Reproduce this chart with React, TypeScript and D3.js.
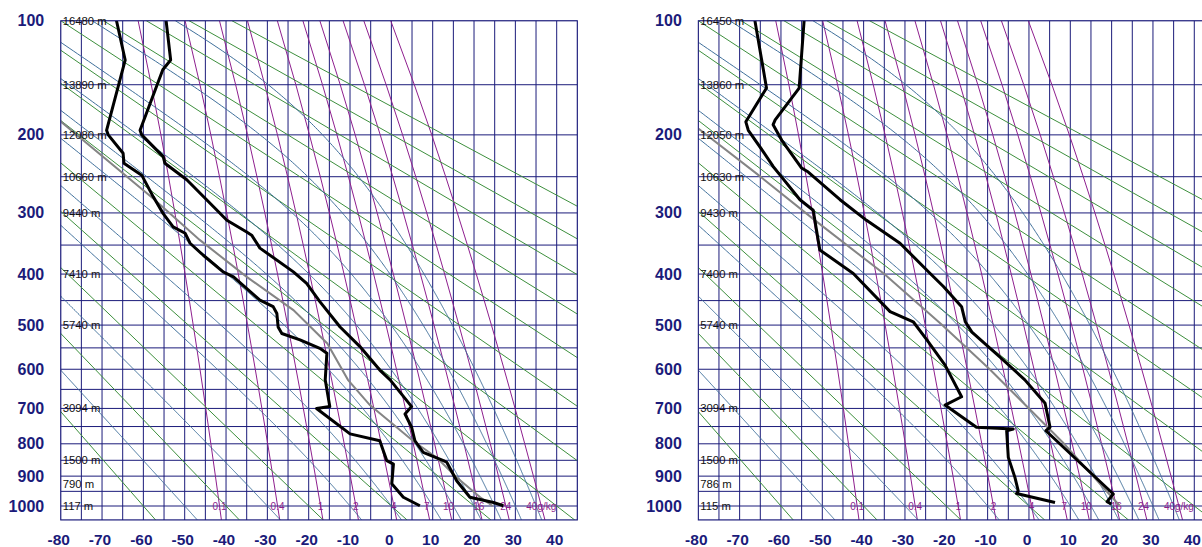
import React, { useEffect, useRef } from 'react';
import * as d3 from 'd3';

// --- axes / grid values ---
const pressureTicks = [100, 200, 300, 400, 500, 600, 700, 800, 900, 1000];
const tempTicks = [-80, -70, -60, -50, -40, -30, -20, -10, 0, 10, 20, 30, 40];
const isobars = [100, 150, 200, 250, 300, 350, 400, 450, 500, 550, 600, 650, 700, 750, 800, 850, 900, 950, 1000, 1050];
const isotherms = [-80, -75, -70, -65, -60, -55, -50, -45, -40, -35, -30, -25, -20, -15, -10, -5, 0, 5, 10, 15, 20, 25, 30, 35, 40, 45];
// dry adiabats, temperature (C) at 1000 hPa
const dryAdiabats = [-60, -40, -20, 0, 20, 40, 60, 80, 100, 120, 140, 160, 180];
// moist adiabats, wet-bulb potential temperature (C)
const moistAdiabats = [-50, -30, -10, 0, 10, 15, 20, 25, 30, 35];
// mixing ratio lines (g/kg)
const mixingRatios = [0.1, 0.4, 1, 2, 4, 7, 10, 16, 24, 40];
const mixingLabels = ['0.1', '0.4', '1', '2', '4', '7', '10', '16', '24', '40g/kg'];

// --- height labels ---
const heightLevels = [100, 150, 200, 250, 300, 400, 500, 700, 850, 925, 1000];
const leftHeights = ['16480 m', '13890 m', '12080 m', '10660 m', '9440 m', '7410 m', '5740 m', '3094 m', '1500 m', '790 m', '117 m'];
const rightHeights = ['16450 m', '13860 m', '12050 m', '10630 m', '9430 m', '7400 m', '5740 m', '3094 m', '1500 m', '786 m', '115 m'];

// --- soundings [pressure hPa, temperature C] ---
const leftTemp: [number, number][] = [
  [100, -54.5], [129, -53.4], [137, -55.3], [195, -60.8], [200, -60.4], [225, -55.2], [233, -54.8],
  [254, -49.5], [281, -44.7], [311, -39.8], [329, -35.0], [334, -33.8], [355, -31.8], [396, -23.7],
  [417, -20.5], [452, -17.3], [504, -12.4], [547, -7.6], [602, -2.8], [626, -0.3], [695, 4.9],
  [715, 3.3], [752, 4.9], [791, 5.7], [826, 7.7], [851, 12.6], [856, 13.4], [915, 15.8],
  [970, 19.0], [988, 24.7], [999, 27.1],
];
const leftDew: [number, number][] = [
  [100, -66.5], [129, -64.4], [195, -68.9], [200, -68.5], [221, -64.9], [233, -64.7], [248, -60.4],
  [277, -57.6], [301, -55.2], [321, -52.8], [331, -49.9], [347, -48.7], [367, -45.5], [396, -40.7],
  [405, -38.2], [449, -31.8], [462, -28.6], [476, -27.7], [504, -27.4], [518, -26.5], [532, -22.1],
  [551, -17.3], [562, -15.6], [626, -16.0], [695, -14.9], [700, -18.1], [771, -10.0], [791, -2.8],
  [851, -1.1], [862, 0.5], [925, 0.1], [970, 2.9], [999, 6.9],
];
const leftParcel: [number, number][] = [
  [185, -80.2], [279, -57.7], [342, -46.3], [405, -35.0], [469, -23.7], [540, -15.5], [626, -10.5],
  [691, -5.2], [791, 5.2], [842, 11.0], [905, 15.9], [970, 21.5], [1000, 24.5],
];
const rightTemp: [number, number][] = [
  [100, -54.4], [153, -55.6], [184, -61.4], [189, -61.9], [206, -59.8], [239, -55.0], [244, -53.4],
  [281, -45.7], [311, -39.3], [347, -31.2], [399, -23.9], [423, -20.7], [462, -16.3], [493, -15.4],
  [515, -13.8], [571, -7.0], [626, -1.0], [686, 3.9], [752, 5.1], [762, 4.1], [959, 20.4],
  [985, 18.9], [993, 19.9],
];
const rightDew: [number, number][] = [
  [100, -66.3], [153, -63.5], [186, -68.5], [195, -67.9], [219, -64.3], [237, -61.9], [248, -60.2],
  [281, -55.4], [296, -52.2], [358, -50.6], [399, -42.5], [472, -33.6], [493, -28.0], [532, -24.7],
  [590, -20.3], [669, -16.3], [691, -20.3], [752, -12.7], [757, -3.8], [762, -5.4], [841, -5.0],
  [904, -3.4], [948, -2.6], [957, -3.0], [988, 6.3],
];
const rightParcel: [number, number][] = [
  [193, -80.0], [246, -65.9], [310, -52.0], [400, -35.0], [500, -21.0], [600, -9.5], [700, 0.0],
  [800, 8.5], [900, 15.5], [1000, 22.0],
];

const W = 1202;
const H = 547;
const K = 0.286;
const chartLefts = [60.7, 698.3];
const degPx = 4.1333;
const top = 20.7;
const bottom = 520;
const font = 'Liberation Sans, Arial, sans-serif';

// pseudo-adiabatic lapse rate dT/dlnp
function dTdlnp(p: number, T: number) {
  const Rd = 287.04, cp = 1005.7, Lv = 2.501e6, eps = 0.622;
  const tc = T - 273.15;
  const es = 6.112 * Math.exp((17.67 * tc) / (tc + 243.5));
  const rs = (eps * es) / (p - es);
  return (Rd * T + Lv * rs) / (cp + (Lv * Lv * rs * eps) / (Rd * T * T));
}

function moistPath(thw: number) {
  let T = thw + 273.15;
  const up: [number, number][] = [];
  for (let p = 1000; p >= 100; p -= 2) {
    up.push([p, T - 273.15]);
    const k1 = dTdlnp(p, T);
    const p2 = p - 2;
    const Tm = T + k1 * Math.log(p2 / p);
    const k2 = dTdlnp(p2, Tm);
    T = T + 0.5 * (k1 + k2) * Math.log(p2 / p);
  }
  T = thw + 273.15;
  const down: [number, number][] = [];
  for (let p = 1000; p < 1050; p += 2) {
    const k1 = dTdlnp(p, T);
    T = T + k1 * Math.log((p + 2) / p);
    down.push([p + 2, T - 273.15]);
  }
  return down.reverse().concat(up);
}

function mixingPath(w: number) {
  return isobars.slice().reverse().map((p) => {
    const e = (w * p) / (622 + w);
    const l = Math.log(e / 6.112);
    return [p, (243.5 * l) / (17.67 - l)] as [number, number];
  });
}

function dryPath(t0: number) {
  return isobars.map((p) => [p, (t0 + 273.15) * Math.pow(p / 1000, K) - 273.15] as [number, number]);
}

const App = () => {
  const ref = useRef<SVGSVGElement>(null);

  useEffect(() => {
    const svg = d3.select(ref.current);
    svg.selectAll('*').remove();

    const y = d3.scalePow().exponent(K).domain([100, 1000]).range([top, 506]);
    const navy = '#1b1b7a';

    const charts = [
      { left: chartLefts[0], heights: leftHeights, temp: leftTemp, dew: leftDew, parcel: leftParcel },
      { left: chartLefts[1], heights: rightHeights, temp: rightTemp, dew: rightDew, parcel: rightParcel },
    ];

    charts.forEach((c, ci) => {
      const x = d3.scaleLinear().domain([-80, 45]).range([c.left, c.left + 125 * degPx]);
      const line = d3.line<[number, number]>().x((d) => x(d[1])).y((d) => y(d[0]));

      const clipId = `clip${ci}`;
      svg.append('clipPath').attr('id', clipId)
        .append('rect')
        .attr('x', x(-80)).attr('y', top)
        .attr('width', x(45) - x(-80)).attr('height', bottom - top);

      const g = svg.append('g').attr('clip-path', `url(#${clipId})`);

      // isotherms and isobars
      g.selectAll('line.iso-t').data(isotherms).join('line')
        .attr('x1', (d) => x(d)).attr('x2', (d) => x(d))
        .attr('y1', top).attr('y2', bottom)
        .attr('stroke', navy).attr('stroke-width', 1);
      g.selectAll('line.iso-p').data(isobars).join('line')
        .attr('x1', x(-80)).attr('x2', x(45))
        .attr('y1', (d) => y(d)).attr('y2', (d) => y(d))
        .attr('stroke', navy).attr('stroke-width', 1);

      // mixing ratio
      g.append('g').selectAll('path').data(mixingRatios).join('path')
        .attr('d', (w) => line(mixingPath(w)))
        .attr('fill', 'none').attr('stroke', '#8e1f8e').attr('stroke-width', 1);

      // dry adiabats
      g.append('g').selectAll('path').data(dryAdiabats).join('path')
        .attr('d', (t) => line(dryPath(t)))
        .attr('fill', 'none').attr('stroke', '#3d8f3d').attr('stroke-width', 1);

      // moist adiabats
      g.append('g').selectAll('path').data(moistAdiabats).join('path')
        .attr('d', (t) => line(moistPath(t)))
        .attr('fill', 'none').attr('stroke', '#3f6f9a').attr('stroke-width', 1);

      // mixing ratio labels
      g.append('g').selectAll('text').data(mixingRatios).join('text')
        .attr('x', (w) => x(mixingPath(w)[1][1]))
        .attr('y', y(1000))
        .attr('text-anchor', 'middle').attr('dominant-baseline', 'central')
        .attr('font-family', font).attr('font-size', 10)
        .attr('fill', '#8e1f8e')
        .text((w, i) => mixingLabels[i]);

      // parcel
      g.append('path').attr('d', line(c.parcel))
        .attr('fill', 'none').attr('stroke', '#858585').attr('stroke-width', 2);

      // sounding
      [c.dew, c.temp].forEach((s) => {
        g.append('path').attr('d', line(s))
          .attr('fill', 'none').attr('stroke', '#000').attr('stroke-width', 3)
          .attr('stroke-linejoin', 'round');
      });

      // frame
      svg.append('rect')
        .attr('x', x(-80)).attr('y', top)
        .attr('width', x(45) - x(-80)).attr('height', bottom - top)
        .attr('fill', 'none').attr('stroke', navy).attr('stroke-width', 1);

      // height labels
      svg.append('g').selectAll('text').data(heightLevels).join('text')
        .attr('x', x(-80) + 2).attr('y', (d) => y(d))
        .attr('dominant-baseline', 'central')
        .attr('font-family', font).attr('font-size', 11.3)
        .attr('fill', '#111')
        .text((d, i) => c.heights[i]);

      // pressure labels
      svg.append('g').selectAll('text').data(pressureTicks).join('text')
        .attr('x', c.left - 16.5).attr('y', (d) => y(d))
        .attr('text-anchor', 'end').attr('dominant-baseline', 'central')
        .attr('font-family', font).attr('font-weight', 'bold')
        .attr('font-size', 16).attr('fill', navy)
        .text((d) => d);

      // temperature labels
      svg.append('g').selectAll('text').data(tempTicks).join('text')
        .attr('x', (d) => x(d) - 2).attr('y', 539)
        .attr('text-anchor', 'middle').attr('dominant-baseline', 'central')
        .attr('font-family', font).attr('font-weight', 'bold')
        .attr('font-size', 15.5).attr('fill', navy)
        .text((d) => d);
    });
  }, []);

  return (
    <svg ref={ref} width={W} height={H} style={{ position: 'absolute', left: 0, top: 0, background: '#fff' }} />
  );
};

export default App;
